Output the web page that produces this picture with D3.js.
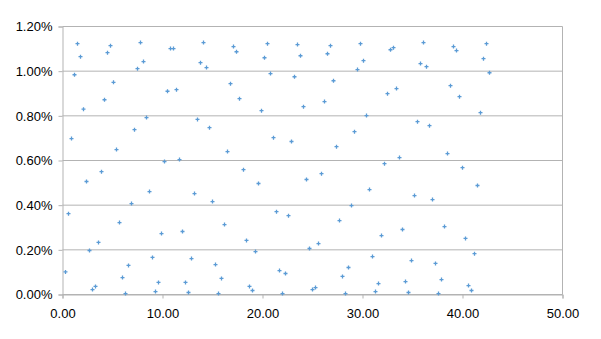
<!DOCTYPE html>
<html>
<head>
<meta charset="utf-8">
<script src="https://cdn.jsdelivr.net/npm/d3@7"></script>
<style>
  body { margin: 0; background: #fff; }
  text { font-family: "Liberation Sans", Arial, sans-serif; font-size: 13px; fill: #000; }
</style>
</head>
<body>
<svg id="chart" width="601" height="339"></svg>
<script>
// x values
const xValues = [
  0.3, 0.6, 0.9, 1.2, 1.5, 1.8, 2.1, 2.4, 2.7, 3.0, 3.3, 3.6, 3.9, 4.2, 4.5, 4.8, 5.1, 5.4, 5.7, 6.0,
  6.3, 6.6, 6.9, 7.2, 7.5, 7.8, 8.1, 8.4, 8.7, 9.0, 9.3, 9.6, 9.9, 10.2, 10.5, 10.8, 11.1, 11.4, 11.7, 12.0,
  12.3, 12.6, 12.9, 13.2, 13.5, 13.8, 14.1, 14.4, 14.7, 15.0, 15.3, 15.6, 15.9, 16.2, 16.5, 16.8, 17.1, 17.4, 17.7, 18.1,
  18.4, 18.7, 19.0, 19.3, 19.6, 19.9, 20.2, 20.5, 20.8, 21.1, 21.4, 21.7, 22.0, 22.3, 22.6, 22.9, 23.2, 23.5, 23.8, 24.1,
  24.4, 24.7, 25.0, 25.3, 25.6, 25.9, 26.2, 26.5, 26.8, 27.1, 27.4, 27.7, 28.0, 28.3, 28.6, 28.9, 29.2, 29.5, 29.8, 30.1,
  30.4, 30.7, 31.0, 31.3, 31.6, 31.9, 32.2, 32.5, 32.8, 33.1, 33.4, 33.7, 34.0, 34.3, 34.6, 34.9, 35.2, 35.5, 35.8, 36.1,
  36.4, 36.7, 37.0, 37.3, 37.6, 37.9, 38.2, 38.5, 38.8, 39.1, 39.4, 39.7, 40.0, 40.3, 40.6, 40.9, 41.2, 41.5, 41.8, 42.1,
  42.4, 42.7
]
// y values in percent
const yValues = [
  0.101, 0.362, 0.698, 0.984, 1.123, 1.065, 0.830, 0.506, 0.197, 0.022, 0.036, 0.233, 0.550, 0.872, 1.083, 1.114, 0.950, 0.649, 0.322, 0.076,
  0.004, 0.130, 0.407, 0.738, 1.011, 1.128, 1.043, 0.792, 0.461, 0.166, 0.013, 0.054, 0.273, 0.595, 0.910, 1.101, 1.101, 0.917, 0.604, 0.282,
  0.054, 0.009, 0.161, 0.452, 0.784, 1.038, 1.128, 1.016, 0.747, 0.416, 0.134, 0.004, 0.072, 0.313, 0.640, 0.944, 1.110, 1.087, 0.877, 0.559,
  0.242, 0.036, 0.018, 0.192, 0.497, 0.823, 1.060, 1.123, 0.989, 0.702, 0.371, 0.107, 0.004, 0.094, 0.353, 0.685, 0.975, 1.119, 1.069, 0.841,
  0.515, 0.206, 0.022, 0.031, 0.228, 0.541, 0.864, 1.078, 1.114, 0.957, 0.662, 0.331, 0.081, 0.004, 0.121, 0.398, 0.729, 1.007, 1.123, 1.047,
  0.801, 0.470, 0.170, 0.013, 0.049, 0.264, 0.586, 0.899, 1.096, 1.105, 0.922, 0.613, 0.291, 0.058, 0.009, 0.152, 0.443, 0.774, 1.034, 1.128,
  1.020, 0.756, 0.425, 0.139, 0.004, 0.067, 0.304, 0.631, 0.935, 1.110, 1.092, 0.886, 0.568, 0.251, 0.040, 0.018, 0.183, 0.488, 0.814, 1.056,
  1.123, 0.993
]
const xTicks = [0, 10, 20, 30, 40, 50]
const yTicks = [0, 0.2, 0.4, 0.6, 0.8, 1.0, 1.2]

const data = xValues.map((x, i) => ({x: x, y: yValues[i]}))

const svg = d3.select("#chart")
const margin = ({top: 26.5, right: 38.5, bottom: 44.5, left: 62.5})
const width = 601
const height = 339
const gridColor = "#b3b3b3"

const x = d3.scaleLinear()
    .domain([0, 50])
    .range([margin.left, width - margin.right])

const y = d3.scaleLinear()
    .domain([0, 1.2])
    .range([height - margin.bottom, margin.top])

// horizontal gridlines
svg.append("g")
    .selectAll("line")
    .data(yTicks)
    .join("line")
    .attr("x1", margin.left)
    .attr("x2", width - margin.right)
    .attr("y1", d => y(d))
    .attr("y2", d => y(d))
    .attr("stroke", gridColor)

// right border of plot area
svg.append("line")
    .attr("x1", width - margin.right).attr("x2", width - margin.right)
    .attr("y1", margin.top).attr("y2", height - margin.bottom)
    .attr("stroke", gridColor)

const yAxis = g => g
    .attr("transform", `translate(${margin.left},0)`)
    .call(d3.axisLeft(y)
        .tickValues(yTicks)
        .tickSize(4)
        .tickPadding(6)
        .tickFormat(d => d.toFixed(2) + "%"))
    .call(g => g.selectAll("path, line").attr("stroke", gridColor))

const xAxis = g => g
    .attr("transform", `translate(0,${height - margin.bottom})`)
    .call(d3.axisBottom(x)
        .tickValues(xTicks)
        .tickSize(4)
        .tickPadding(10)
        .tickSizeOuter(4)
        .tickFormat(d3.format(".2f")))
    .call(g => g.selectAll("path, line").attr("stroke", gridColor))

svg.append("g").call(yAxis)
svg.append("g").call(xAxis)

svg.selectAll(".tick text")
    .attr("font-family", "Liberation Sans, Arial, sans-serif")
    .attr("font-size", 13)
    .attr("fill", "#000")

// markers: small plus signs
svg.append("g")
    .attr("stroke", "#5b9bd5")
    .attr("stroke-width", 1.3)
    .selectAll("path")
    .data(data)
    .join("path")
    .attr("d", d => `M${x(d.x) - 2},${y(d.y)}h4M${x(d.x)},${y(d.y) - 2}v4`)
</script>
</body>
</html>
